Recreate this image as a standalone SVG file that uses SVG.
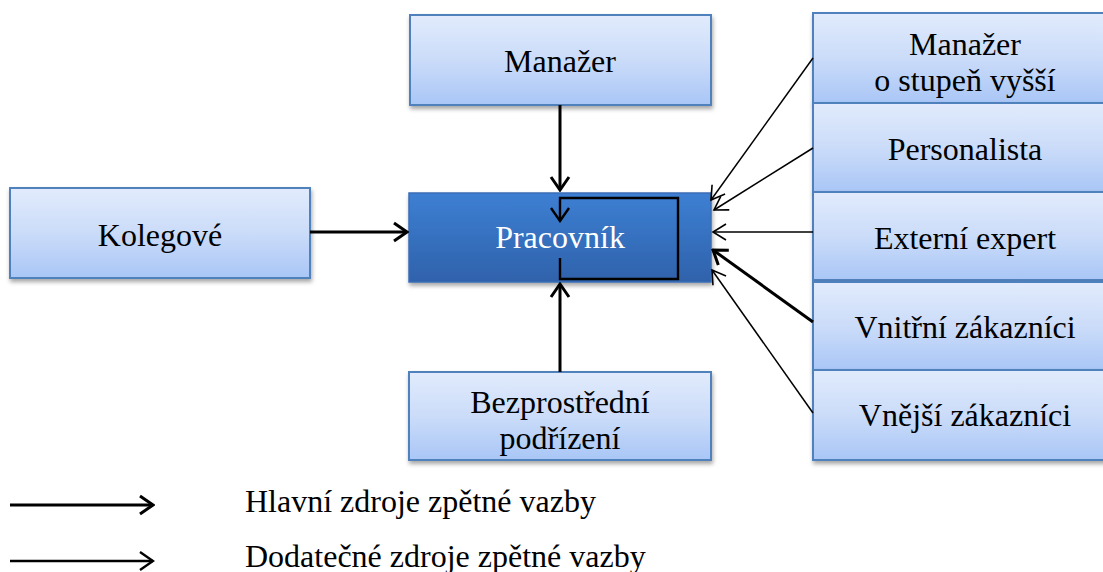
<svg xmlns="http://www.w3.org/2000/svg" width="1103" height="572" viewBox="0 0 1103 572">
<defs>
<linearGradient id="gLight" x1="0" y1="0" x2="0" y2="1">
<stop offset="0" stop-color="#e1ebfc"/>
<stop offset="0.5" stop-color="#cbdcf9"/>
<stop offset="1" stop-color="#a9c6f6"/>
</linearGradient>
<linearGradient id="gDark" x1="0" y1="0" x2="0" y2="1">
<stop offset="0" stop-color="#3d7fd3"/>
<stop offset="1" stop-color="#2f62ab"/>
</linearGradient>
<filter id="sh" x="-5%" y="-5%" width="115%" height="125%">
<feDropShadow dx="1" dy="3" stdDeviation="2" flood-color="#000" flood-opacity="0.35"/>
</filter>
<marker id="aThick" markerUnits="userSpaceOnUse" viewBox="-16 -11 18 22" markerWidth="18" markerHeight="22" refX="0" refY="0" orient="auto">
<path d="M-13,-9 L0,0 L-13,9" fill="none" stroke="#000" stroke-width="3"/>
</marker>
<marker id="aThin" markerUnits="userSpaceOnUse" viewBox="-16 -11 18 22" markerWidth="18" markerHeight="22" refX="0" refY="0" orient="auto">
<path d="M-13,-8 L0,0 L-13,8" fill="none" stroke="#000" stroke-width="1.6"/>
</marker>
<marker id="aMid" markerUnits="userSpaceOnUse" viewBox="-16 -11 18 22" markerWidth="18" markerHeight="22" refX="0" refY="0" orient="auto">
<path d="M-13,-9 L0,0 L-13,9" fill="none" stroke="#000" stroke-width="2.4"/>
</marker>
<clipPath id="cTop"><rect x="813" y="13" width="304" height="90"/></clipPath>
<clipPath id="cBez"><rect x="409" y="372" width="302" height="88"/></clipPath>
</defs>
<style>
.box{fill:url(#gLight);stroke:#4f81bd;stroke-width:2;filter:url(#sh)}
.dark{fill:url(#gDark);stroke:#3a6eb5;stroke-width:1.5;filter:url(#sh)}
.thick{fill:none;stroke:#000;stroke-width:3}
.thin{fill:none;stroke:#000;stroke-width:1.5}
.mid{fill:none;stroke:#000;stroke-width:2.4}
</style>

<g id="manazer">
<rect class="box" x="410" y="15" width="301" height="90"/>
<text style="font-family:'Liberation Serif','Times New Roman',serif;font-size:32px" text-anchor="middle" x="560" y="72">Manažer</text>
</g>
<g id="kolegove">
<rect class="box" x="10" y="188" width="300" height="90"/>
<text style="font-family:'Liberation Serif','Times New Roman',serif;font-size:32px" text-anchor="middle" x="160" y="246">Kolegové</text>
</g>
<g id="pracovnik">
<rect class="dark" x="409" y="193" width="302" height="89"/>
<text style="font-family:'Liberation Serif','Times New Roman',serif;font-size:32px" text-anchor="middle" fill="#fff" x="560" y="248">Pracovník</text>
</g>
<g id="bezprostredni">
<rect class="box" x="409" y="372" width="302" height="88"/>
<g clip-path="url(#cBez)">
<text style="font-family:'Liberation Serif','Times New Roman',serif;font-size:32px" text-anchor="middle" x="560" y="413">Bezprostřední</text>
<text style="font-family:'Liberation Serif','Times New Roman',serif;font-size:32px" text-anchor="middle" x="560" y="449">podřízení</text>
</g>
</g>
<g id="manazer-vyssi">
<rect class="box" x="813" y="13" width="304" height="90"/>
<g clip-path="url(#cTop)">
<text style="font-family:'Liberation Serif','Times New Roman',serif;font-size:32px" text-anchor="middle" x="965" y="55">Manažer</text>
<text style="font-family:'Liberation Serif','Times New Roman',serif;font-size:32px" text-anchor="middle" x="965" y="91">o stupeň vyšší</text>
</g>
</g>
<g id="personalista">
<rect class="box" x="813" y="103" width="304" height="89"/>
<text style="font-family:'Liberation Serif','Times New Roman',serif;font-size:32px" text-anchor="middle" x="965" y="160">Personalista</text>
</g>
<g id="externi">
<rect class="box" x="813" y="192" width="304" height="88"/>
<text style="font-family:'Liberation Serif','Times New Roman',serif;font-size:32px" text-anchor="middle" x="965" y="249">Externí expert</text>
</g>
<g id="vnitrni">
<rect class="box" x="813" y="282" width="304" height="88"/>
<text style="font-family:'Liberation Serif','Times New Roman',serif;font-size:32px" text-anchor="middle" x="965" y="338">Vnitřní zákazníci</text>
</g>
<g id="vnejsi">
<rect class="box" x="813" y="370" width="304" height="90"/>
<text style="font-family:'Liberation Serif','Times New Roman',serif;font-size:32px" text-anchor="middle" x="965" y="426">Vnější zákazníci</text>
</g>

<g id="connectors">
<line class="thick" x1="560" y1="105" x2="560" y2="190" marker-end="url(#aThick)"/>
<line class="thick" x1="560" y1="372" x2="560" y2="284" marker-end="url(#aThick)"/>
<line class="thick" x1="310" y1="232" x2="407" y2="232" marker-end="url(#aThick)"/>
<path class="mid" d="M560,258 L560,279 L678,279 L678,198 L560,198 L560,221" marker-end="url(#aMid)"/>
<line class="thin" x1="813" y1="58" x2="711" y2="200" marker-end="url(#aThin)"/>
<line class="thin" x1="813" y1="148" x2="714" y2="210" marker-end="url(#aThin)"/>
<line class="thin" x1="813" y1="232" x2="713" y2="232" marker-end="url(#aThin)"/>
<line class="thick" x1="813" y1="322" x2="713" y2="250" marker-end="url(#aThick)"/>
<line class="thin" x1="813" y1="413" x2="712" y2="270" marker-end="url(#aThin)"/>
</g>

<g id="legend">
<line class="thick" x1="10" y1="505" x2="153" y2="505" marker-end="url(#aThick)"/>
<line class="mid" x1="10" y1="561" x2="153" y2="561" marker-end="url(#aMid)"/>
<text style="font-family:'Liberation Serif','Times New Roman',serif;font-size:32px" x="245" y="512">Hlavní zdroje zpětné vazby</text>
<text style="font-family:'Liberation Serif','Times New Roman',serif;font-size:32px" x="245" y="567">Dodatečné zdroje zpětné vazby</text>
</g>
</svg>
